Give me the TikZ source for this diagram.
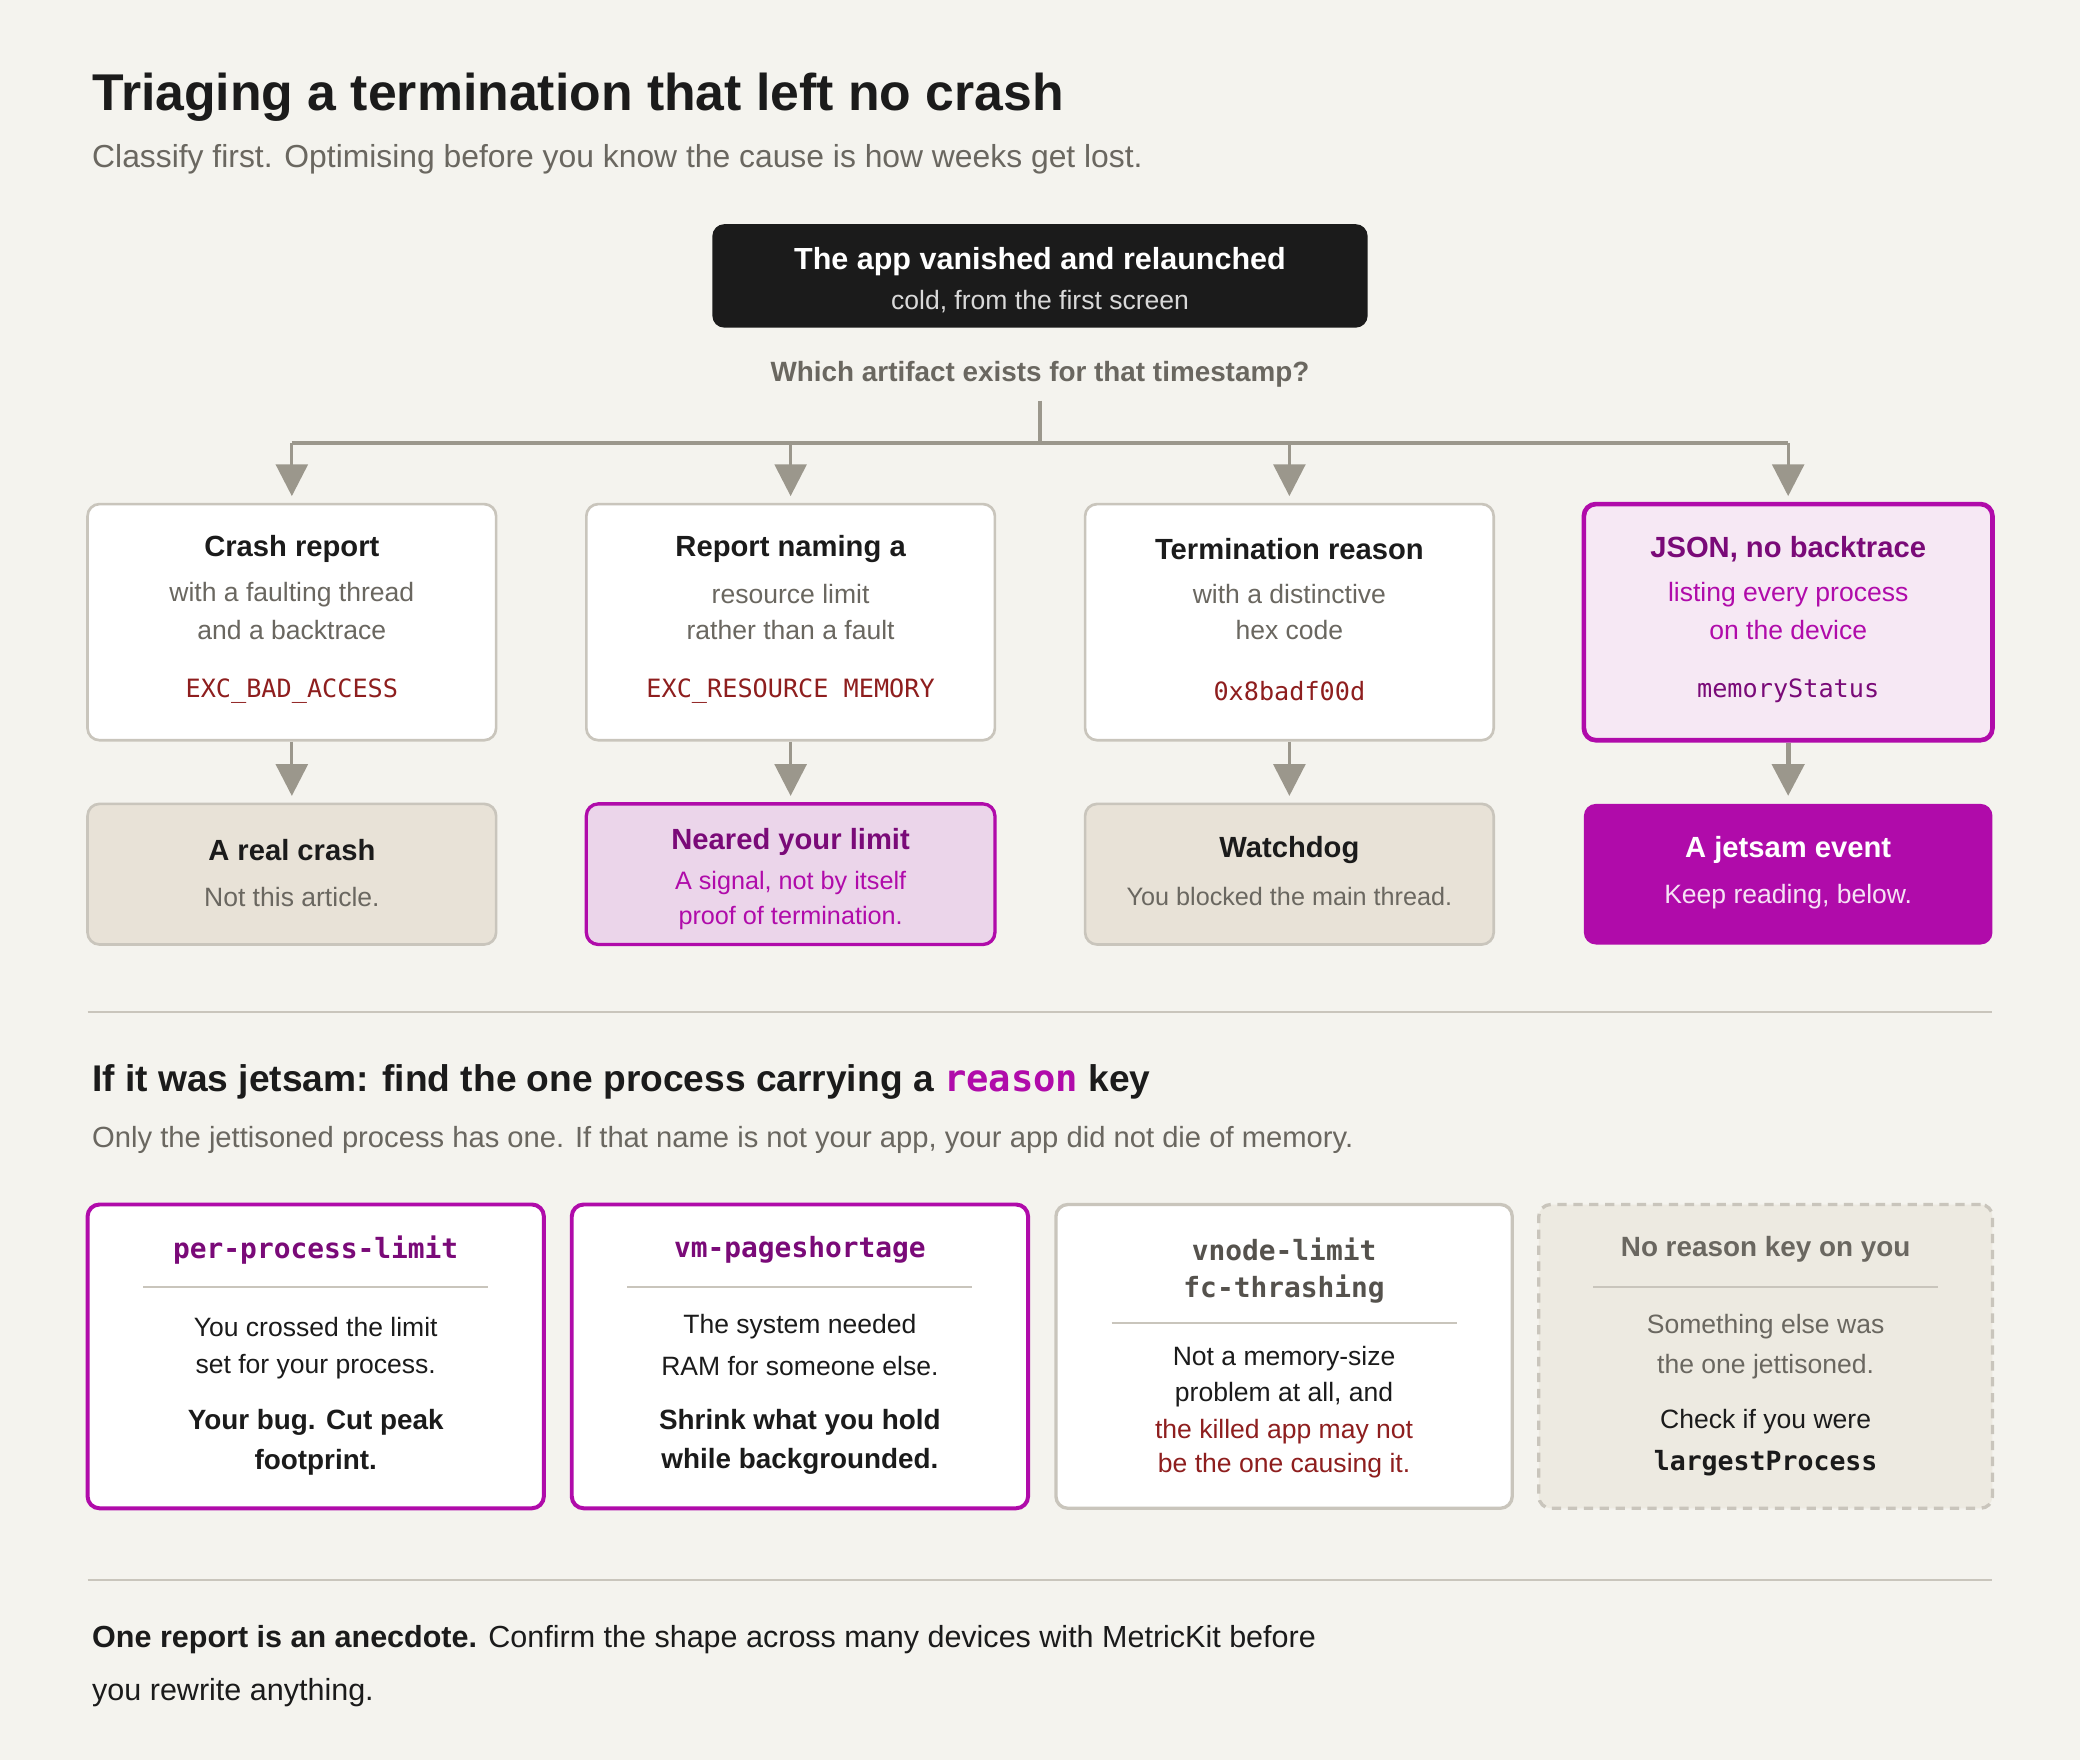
\documentclass[tikz,border=0pt]{standalone}
\usepackage{fontspec}
\setmainfont{Liberation Sans}
\newfontfamily\monof{DejaVu Sans Mono}
\usetikzlibrary{arrows.meta}
\definecolor{bg}{HTML}{F4F3EE}
\definecolor{bord}{HTML}{C9C5BC}
\definecolor{arr}{HTML}{9B978C}
\definecolor{tan}{HTML}{E8E2D7}
\definecolor{mag}{HTML}{B00BAA}
\definecolor{magd}{HTML}{7A0A78}
\definecolor{pinkf}{HTML}{F6E8F4}
\definecolor{lav}{HTML}{EBD5EA}
\definecolor{dred}{HTML}{8E1E1E}
\definecolor{ink}{HTML}{1B1B1B}
\definecolor{gtx}{HTML}{6A6760}
\newcommand{\fs}[1]{\fontsize{#1}{#1}\selectfont}
\tikzset{
 box/.style={draw=bord,line width=2pt,rounded corners=9pt,fill=white,minimum width=#1,inner sep=0pt},
 t/.style={text=ink,font=\fs{22}\bfseries,anchor=center},
 s/.style={text=gtx,font=\fs{20},anchor=center},
 m/.style={text=dred,font=\fs{19}\monof,anchor=center},
 ar/.style={draw=arr,line width=2.5pt,-{Triangle[width=24pt,length=24pt]}},
}
\begin{document}
\begin{tikzpicture}[x=1pt,y=-1pt]
\fill[bg] (0,0) rectangle (1568,1327);
\useasboundingbox (0,0) rectangle (1568,1327);
\node[anchor=base west,text=ink,font=\fs{39}\bfseries] (title) at (66,83) {Triaging a termination that left no crash};
\node[anchor=base west,text=gtx,font=\fs{24}] (sub) at (66,126) {Classify first. Optimising before you know the cause is how weeks get lost.};
% top box
\node[fill=ink,rounded corners=9pt,minimum width=494pt,minimum height=78pt] (top) at (784,208) {};
\node[text=white,font=\fs{23}\bfseries] at (784,197) {The app vanished and relaunched};
\node[text=white!85!black,font=\fs{20}] at (784,227) {cold, from the first screen};
\node[text=gtx,font=\fs{21}\bfseries] (q) at (784,282) {Which artifact exists for that timestamp?};
\coordinate (j) at (784,334);
\draw[arr,line width=2.5pt] (784,302) -- (j);
\draw[arr,line width=2.5pt] (220,334) -- (1348,334);
% row 1 boxes
\foreach \x/\n in {220/a,596/b,972/c}{
 \node[box=308pt,minimum height=178pt] (r1\n) at (\x,469) {};
 \node[box=308pt,minimum height=106pt,fill=tan] (r2\n) at (\x,659) {};
 \draw[ar] (\x,334) -- (\x,374);
 \draw[ar] (r1\n.south) -- (\x,600);
}
\node[box=308pt,minimum height=178pt,draw=mag,line width=3.5pt,fill=pinkf] (r1d) at (1348,469) {};
\node[fill=mag,rounded corners=9pt,minimum width=308pt,minimum height=106pt] (r2d) at (1348,659) {};
\draw[ar] (1348,334) -- (1348,374);
\draw[ar,line width=4pt] (r1d.south) -- (1348,600);
\node[box=308pt,minimum height=106pt,fill=lav,draw=mag,line width=2.5pt] at (596,659) {};
% row1 text
\node[t] at (220,414) {Crash report};
\node[s] at (220,448) {with a faulting thread};
\node[s] at (220,475) {and a backtrace};
\node[m] at (220,521) {EXC\_BAD\_ACCESS};
\node[t] at (596,414) {Report naming a};
\node[s] at (596,448) {resource limit};
\node[s] at (596,475) {rather than a fault};
\node[m] at (596,521) {EXC\_RESOURCE MEMORY};
\node[t] at (972,414) {Termination reason};
\node[s] at (972,448) {with a distinctive};
\node[s] at (972,475) {hex code};
\node[m] at (972,521) {0x8badf00d};
\node[t,text=magd] at (1348,414) {JSON, no backtrace};
\node[s,text=mag] at (1348,448) {listing every process};
\node[s,text=mag] at (1348,475) {on the device};
\node[m,text=magd] at (1348,521) {memoryStatus};
% row2 text
\node[t] at (220,641) {A real crash};
\node[s] at (220,676) {Not this article.};
\node[t,text=magd] at (596,635) {Neared your limit};
\node[s,text=mag,font=\fs{19}] at (596,666) {A signal, not by itself};
\node[s,text=mag,font=\fs{19}] at (596,692) {proof of termination.};
\node[t] at (972,641) {Watchdog};
\node[s,font=\fs{19}] at (972,676) {You blocked the main thread.};
\node[t,text=white] at (1348,641) {A jetsam event};
\node[s,text=white!88!mag] at (1348,676) {Keep reading, below.};
% separator
\draw[bord,line width=2pt] (66,763) -- (1502,763);
\node[anchor=base west,text=ink,font=\fs{28}\bfseries] (h2) at (66,823) {If it was jetsam: find the one process carrying a {\monof\color{mag}reason} key};
\node[anchor=base west,text=gtx,font=\fs{22}] (s2) at (66,865) {Only the jettisoned process has one. If that name is not your app, your app did not die of memory.};
% row 3
\node[box=344pt,minimum height=229pt,draw=mag,line width=3pt] (c1) at (238,1022.5) {};
\node[box=344pt,minimum height=229pt,draw=mag,line width=3pt] (c2) at (603,1022.5) {};
\node[box=344pt,minimum height=229pt,line width=2.5pt] (c3) at (968,1022.5) {};
\node[box=342pt,minimum height=229pt,line width=2.5pt,fill=tan!55!bg,dashed,dash pattern=on 7pt off 5pt] (c4) at (1331,1022.5) {};
\foreach \x/\y in {238/970,603/970,968/997,1331/970}{\draw[bord,line width=1.5pt] (\x-130,\y) -- (\x+130,\y);}
\node[m,text=magd,font=\fs{21}\monof\bfseries] at (238,942) {per-process-limit};
\node[s,text=ink] at (238,1000) {You crossed the limit};
\node[s,text=ink] at (238,1030) {set for your process.};
\node[t,font=\fs{21}\bfseries] at (238,1072) {Your bug. Cut peak};
\node[t,font=\fs{21}\bfseries] at (238,1102) {footprint.};
\node[m,text=magd,font=\fs{21}\monof\bfseries] at (603,942) {vm-pageshortage};
\node[s,text=ink] at (603,1000) {The system needed};
\node[s,text=ink] at (603,1030) {RAM for someone else.};
\node[t,font=\fs{21}\bfseries] at (603,1072) {Shrink what you hold};
\node[t,font=\fs{21}\bfseries] at (603,1102) {while backgrounded.};
\node[m,text=gtx!80!black,font=\fs{21}\monof\bfseries] at (968,942) {vnode-limit};
\node[m,text=gtx!80!black,font=\fs{21}\monof\bfseries] at (968,972) {fc-thrashing};
\node[s,text=ink] at (968,1024) {Not a memory-size};
\node[s,text=ink] at (968,1051) {problem at all, and};
\node[s,text=dred] at (968,1079) {the killed app may not};
\node[s,text=dred] at (968,1105) {be the one causing it.};
\node[t,text=gtx,font=\fs{21}\bfseries] at (1331,942) {No reason key on you};
\node[s] at (1331,1000) {Something else was};
\node[s] at (1331,1030) {the one jettisoned.};
\node[s,text=ink] at (1331,1072) {Check if you were};
\node[m,text=ink,font=\fs{20}\monof\bfseries] at (1331,1103) {largestProcess};
% footer
\draw[bord,line width=2pt] (66,1191) -- (1502,1191);
\node[anchor=base west,text=ink,font=\fs{23}] (f1) at (66,1242) {\textbf{One report is an anecdote.} Confirm the shape across many devices with MetricKit before};
\node[anchor=base west,text=ink,font=\fs{23}] (f2) at (66,1282) {you rewrite anything.};
\end{tikzpicture}
\end{document}
